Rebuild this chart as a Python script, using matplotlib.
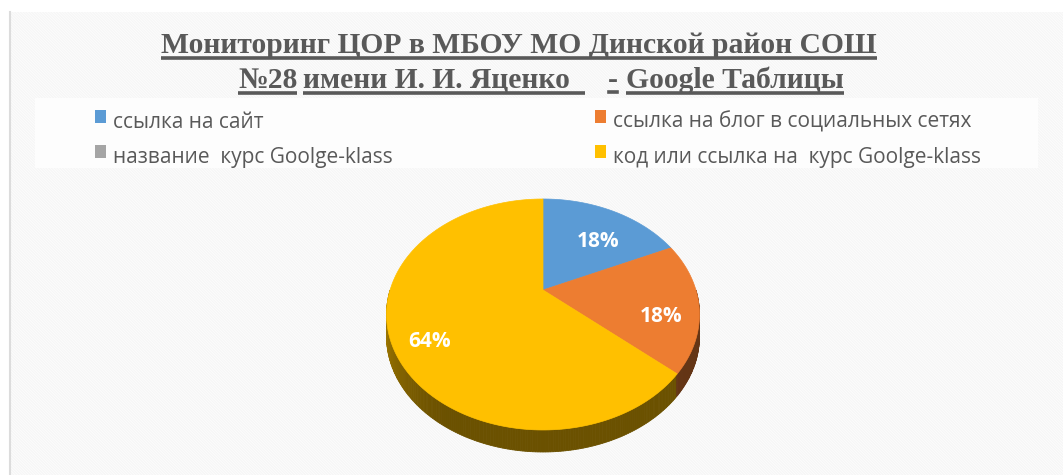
import numpy as np
import matplotlib
matplotlib.use("Agg")
import matplotlib.pyplot as plt
from matplotlib.patches import Polygon, Rectangle
from matplotlib.colors import to_rgb

# data
categories = ["ссылка на сайт", "ссылка на блог в социальных сетях",
              "название  курс Goolge-klass", "код или ссылка на  курс Goolge-klass"]
values = [2, 2, 0, 7]
colors = ["#5b9bd5", "#ed7d31", "#a5a5a5", "#ffc000"]
title_line1 = "Мониторинг ЦОР в МБОУ МО Динской район СОШ"
title_line2 = [("№28", True), ("имени И. И. Яценко  ", True), ("-", False), ("Google Таблицы", True)]
title_x2 = [238, 303, 608, 626]

W, H = 1063, 475
fig = plt.figure(figsize=(W / 100, H / 100), dpi=100)
ax = fig.add_axes([0, 0, 1, 1])
ax.set_xlim(0, W)
ax.set_ylim(H, 0)
ax.axis("off")

# background with faint diagonal stripes
plt.rcParams["hatch.linewidth"] = 1.0
ax.add_patch(Rectangle((10, 12), W, H, facecolor="white", edgecolor="#f6f6f6",
                       hatch="\\\\\\\\\\\\\\\\\\\\\\\\", lw=0, zorder=0))
ax.plot([10, 10], [12, H], color="#dcdcdc", lw=1.5, zorder=1)
# legend area
ax.add_patch(Rectangle((35, 98), 1003, 70, facecolor="#fdfdfd", edgecolor="none", zorder=1))

gray = "#595959"
serif = ["Liberation Serif", "DejaVu Serif"]
sans = ["Open Sans", "DejaVu Sans"]

fig.canvas.draw()
rend = fig.canvas.get_renderer()


def underline(t, y, lw=2.6):
    bb = t.get_window_extent(rend).transformed(ax.transData.inverted())
    ax.plot([bb.x0, bb.x1], [y, y], color=gray, lw=lw, solid_capstyle="butt", zorder=3)


t1 = ax.text(519, 53, title_line1, ha="center", va="baseline", fontsize=21.3,
             fontweight="bold", family=serif, color=gray, zorder=3)
underline(t1, 58)
for (txt, ul), x in zip(title_line2, title_x2):
    t = ax.text(x, 88, txt, ha="left", va="baseline", fontsize=21.3,
                fontweight="bold", family=serif, color=gray, zorder=3)
    if ul:
        underline(t, 93)
    else:
        bb = t.get_window_extent(rend).transformed(ax.transData.inverted())
        ax.plot([bb.x0 + 1, bb.x1 - 1], [92, 92], color=gray, lw=2.6, zorder=3)

# legend
leg_x = [95, 595, 95, 595]
leg_y = [122, 122, 157, 157]
for name, col, x, y in zip(categories, colors, leg_x, leg_y):
    ax.add_patch(Rectangle((x, y - 12), 11, 13, facecolor=col, edgecolor="none", zorder=3))
    ax.text(x + 18, y, name, ha="left", va="center", fontsize=15, family=sans,
            color=gray, zorder=3)

# pseudo-3D pie (perspective projection of a tilted disk)
cx, apex_y = 543, 290
A, C, D = 110.3, 0.212, 152.9
depth = 22


def proj(r, th):
    u, v = r * np.cos(th), r * np.sin(th)
    w = 1 + C * v
    return cx + D * u / w, apex_y - A * v / w


total = sum(values)
fracs = np.array(values) / total
ends = np.pi / 2 - 2 * np.pi * np.cumsum(fracs)
starts = np.concatenate([[np.pi / 2], ends[:-1]])


def slice_at(th):
    a = (np.pi / 2 - th) % (2 * np.pi)
    cum = 2 * np.pi * np.cumsum(fracs)
    return int(np.searchsorted(cum, a, side="right"))


# side wall
ths = np.linspace(np.pi, 2 * np.pi, 241)
for a0, a1 in zip(ths[:-1], ths[1:]):
    k = min(slice_at(0.5 * (a0 + a1)), len(values) - 1)
    p = (0.5 * (a0 + a1) - np.pi) / np.pi
    shade = 0.42 + 0.3 * max(0.0, 1 - p / 0.33) ** 1.3
    if p < 0.02:
        shade -= 0.08
    c = np.array(to_rgb(colors[k])) * shade
    x0, y0 = proj(1, a0)
    x1, y1 = proj(1, a1)
    ax.add_patch(Polygon([(x0, y0), (x1, y1), (x1, y1 + depth), (x0, y0 + depth)],
                         closed=True, facecolor=c, edgecolor=c, lw=0.6, zorder=4))

# top face
for v, col, s, e in zip(values, colors, starts, ends):
    if v == 0:
        continue
    th = np.linspace(s, e, 200)
    xs, ys = proj(1, th)
    pts = [(cx, apex_y)] + list(zip(xs, ys))
    ax.add_patch(Polygon(pts, closed=True, facecolor=col, edgecolor=col, lw=0.5, zorder=5))

# percentage labels
for v, s, e in zip(values, starts, ends):
    if v == 0:
        continue
    mid = 0.5 * (s + e)
    lx, ly = proj(0.76, mid)
    ax.text(lx, ly + 14, f"{v / total:.0%}", ha="center", va="center", fontsize=15,
            fontweight="bold", family=sans, color="white", zorder=6)

fig.savefig("out.png", dpi=100)
